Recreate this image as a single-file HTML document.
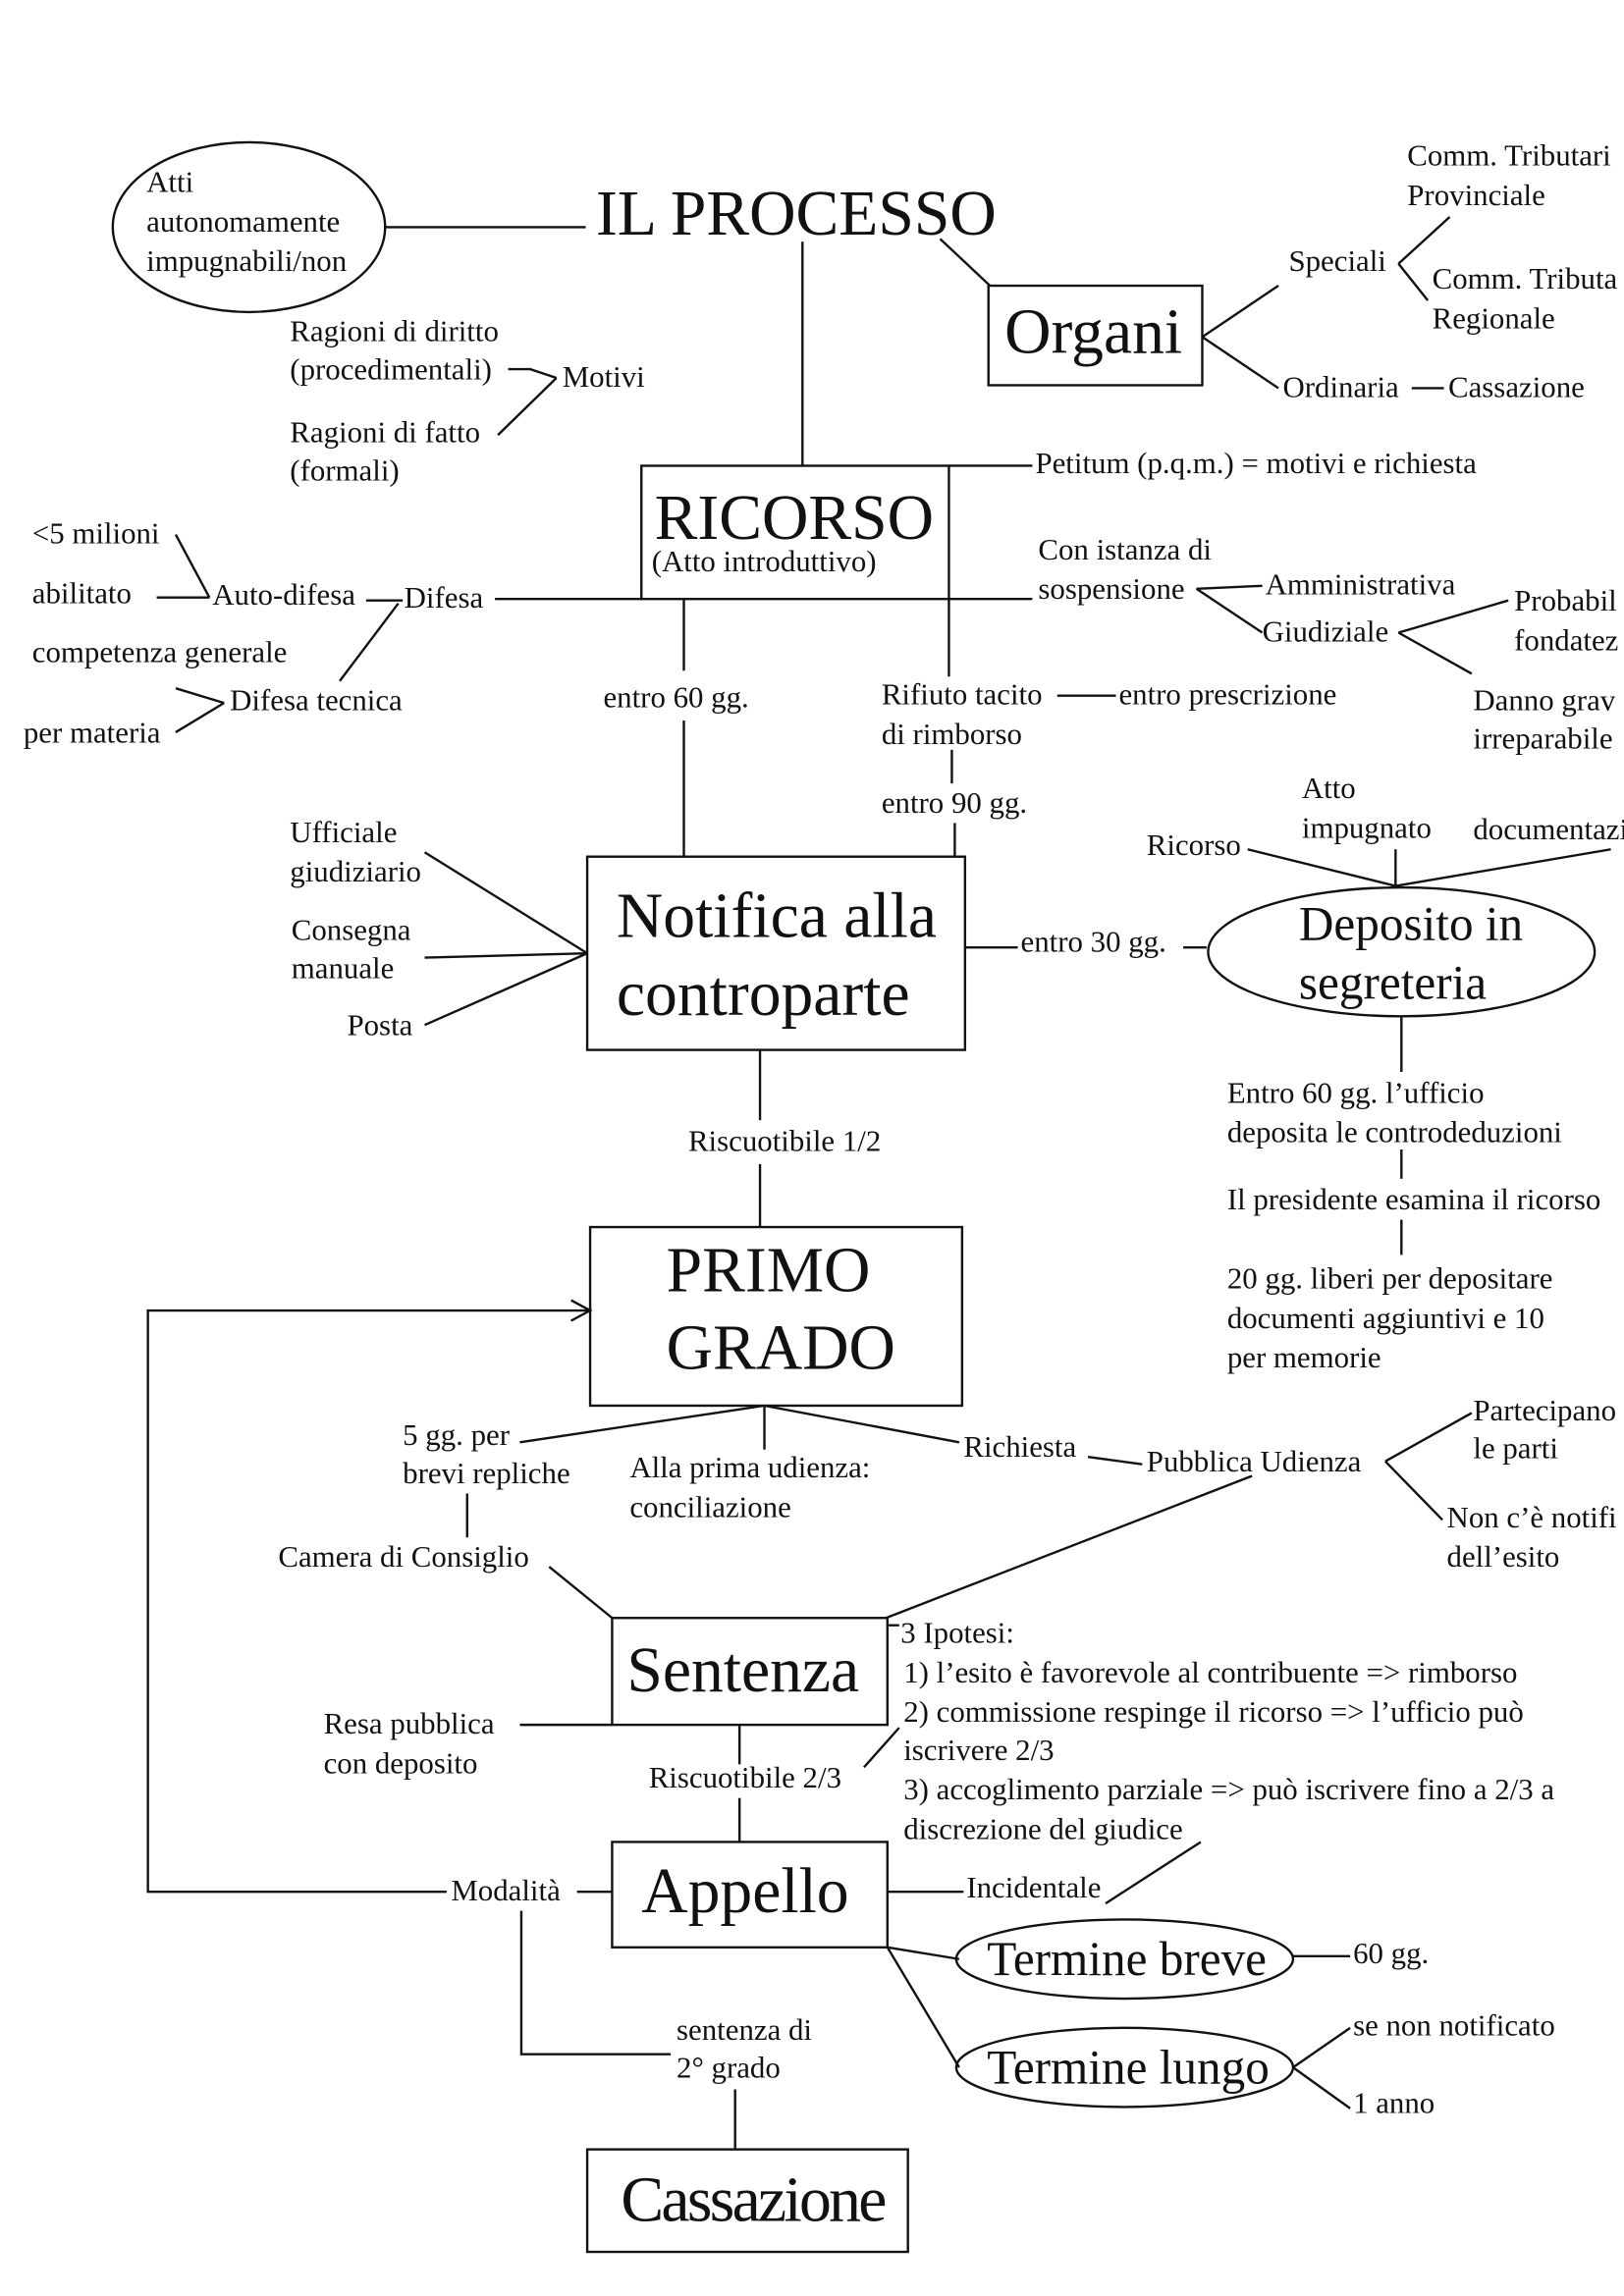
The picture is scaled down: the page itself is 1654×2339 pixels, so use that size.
<!DOCTYPE html>
<html><head><meta charset="utf-8"><style>
html,body{margin:0;padding:0;background:#fff}
svg{display:block}
text{font-family:"Liberation Serif",serif;fill:#111;font-size:20.7px}
.b{font-size:44px}
line,polyline,rect,ellipse,path{stroke:#111;stroke-width:1.6;fill:none}
</style></head><body>
<svg width="1654" height="2339" viewBox="0 0 1109 1568" xmlns="http://www.w3.org/2000/svg">
<ellipse cx="170" cy="155" rx="93" ry="58"/>
<text x="100" y="131">Atti</text><text x="100" y="158">autonomamente</text><text x="100" y="185">impugnabili/non</text>
<line x1="263" y1="155" x2="400" y2="155"/>
<text x="407" y="160" class="b">IL PROCESSO</text>
<line x1="548" y1="165" x2="548" y2="318"/>
<line x1="642" y1="163" x2="676" y2="195"/>
<rect x="675" y="195" width="146" height="68"/>
<text x="686" y="241" class="b">Organi</text>
<line x1="821" y1="230" x2="873" y2="195"/><line x1="821" y1="230" x2="873" y2="265"/>
<text x="880" y="185">Speciali</text>
<line x1="955" y1="180" x2="990" y2="148"/><line x1="955" y1="180" x2="975" y2="205"/>
<text x="961" y="113">Comm. Tributari</text><text x="961" y="140">Provinciale</text>
<text x="978" y="197">Comm. Tributa</text><text x="978" y="224">Regionale</text>
<text x="876" y="271">Ordinaria</text><line x1="964" y1="265" x2="986" y2="265"/><text x="989" y="271">Cassazione</text>
<text x="198" y="233">Ragioni di diritto</text><text x="198" y="259">(procedimentali)</text>
<text x="198" y="302">Ragioni di fatto</text><text x="198" y="328">(formali)</text>
<text x="384" y="264">Motivi</text>
<polyline points="347,252 362,252 380,258"/><line x1="340" y1="297" x2="380" y2="258"/>
<rect x="438" y="318" width="210" height="91"/>
<text x="447" y="368" class="b">RICORSO</text>
<text x="445" y="390">(Atto introduttivo)</text>
<line x1="648" y1="318" x2="705" y2="318"/>
<text x="707" y="323">Petitum (p.q.m.) = motivi e richiesta</text>
<line x1="338" y1="409" x2="438" y2="409"/><line x1="648" y1="409" x2="705" y2="409"/>
<text x="709" y="382">Con istanza di</text><text x="709" y="409">sospensione</text>
<line x1="817" y1="402" x2="862" y2="400"/><line x1="817" y1="402" x2="862" y2="432"/>
<text x="864" y="406">Amministrativa</text><text x="862" y="438">Giudiziale</text>
<line x1="955" y1="432" x2="1030" y2="410"/><line x1="955" y1="432" x2="1005" y2="460"/>
<text x="1034" y="417">Probabil</text><text x="1034" y="444">fondatez</text>
<text x="1006" y="485">Danno grav</text><text x="1006" y="511">irreparabile</text>
<text x="22" y="371">&lt;5 milioni</text><text x="22" y="412">abilitato</text>
<line x1="107" y1="408" x2="143" y2="408"/><line x1="120" y1="365" x2="143" y2="408"/>
<text x="145" y="413">Auto-difesa</text>
<line x1="250" y1="410" x2="275" y2="410"/>
<text x="276" y="415">Difesa</text>
<text x="22" y="452">competenza generale</text><text x="157" y="485">Difesa tecnica</text><text x="16" y="507">per materia</text>
<line x1="120" y1="470" x2="153" y2="480"/><line x1="120" y1="500" x2="153" y2="480"/>
<line x1="232" y1="465" x2="272" y2="412"/>
<line x1="467" y1="409" x2="467" y2="458"/><text x="412" y="483">entro 60 gg.</text><line x1="467" y1="492" x2="467" y2="585"/>
<line x1="648" y1="409" x2="648" y2="462"/>
<text x="602" y="481">Rifiuto tacito</text><text x="602" y="508">di rimborso</text>
<line x1="722" y1="475" x2="762" y2="475"/><text x="764" y="481">entro prescrizione</text>
<line x1="650" y1="512" x2="650" y2="535"/><text x="602" y="555">entro 90 gg.</text><line x1="652" y1="562" x2="652" y2="585"/>
<rect x="401" y="585" width="258" height="132"/>
<text x="421" y="640" class="b">Notifica alla</text><text x="421" y="693" class="b">controparte</text>
<line x1="290" y1="582" x2="401" y2="651"/><line x1="290" y1="654" x2="401" y2="651"/><line x1="290" y1="700" x2="401" y2="651"/>
<text x="198" y="575">Ufficiale</text><text x="198" y="602">giudiziario</text>
<text x="199" y="642">Consegna</text><text x="199" y="668">manuale</text><text x="237" y="707">Posta</text>
<line x1="659" y1="647" x2="695" y2="647"/><text x="697" y="650">entro 30 gg.</text><line x1="808" y1="647" x2="824" y2="647"/>
<ellipse cx="957" cy="650" rx="132" ry="44"/>
<text x="887" y="642" style="font-size:33px">Deposito in</text><text x="887" y="682" style="font-size:33px">segreteria</text>
<text x="783" y="584">Ricorso</text><text x="889" y="545">Atto</text><text x="889" y="572">impugnato</text><text x="1006" y="573">documentazi</text>
<line x1="953" y1="605" x2="852" y2="580"/><line x1="953" y1="605" x2="953" y2="580"/><line x1="953" y1="605" x2="1100" y2="580"/>
<line x1="957" y1="694" x2="957" y2="732"/>
<text x="838" y="753">Entro 60 gg. l’ufficio</text><text x="838" y="780">deposita le controdeduzioni</text>
<line x1="957" y1="785" x2="957" y2="805"/>
<text x="838" y="826">Il presidente esamina il ricorso</text>
<line x1="957" y1="833" x2="957" y2="857"/>
<text x="838" y="880">20 gg. liberi per depositare</text><text x="838" y="907">documenti aggiuntivi e 10</text><text x="838" y="934">per memorie</text>
<line x1="519" y1="717" x2="519" y2="765"/><text x="470" y="786">Riscuotibile 1/2</text><line x1="519" y1="795" x2="519" y2="838"/>
<rect x="403" y="838" width="254" height="122"/>
<text x="455" y="882" class="b">PRIMO</text><text x="455" y="935" class="b">GRADO</text>
<polyline points="305,1292 101,1292 101,895 403,895"/>
<polyline points="390,888 403,895 390,902"/>
<line x1="522" y1="960" x2="355" y2="985"/><line x1="522" y1="960" x2="522" y2="990"/><line x1="522" y1="960" x2="655" y2="985"/>
<text x="275" y="987">5 gg. per</text><text x="275" y="1013">brevi repliche</text>
<line x1="319" y1="1020" x2="319" y2="1050"/>
<text x="190" y="1070">Camera di Consiglio</text>
<line x1="375" y1="1070" x2="418" y2="1105"/>
<text x="430" y="1009">Alla prima udienza:</text><text x="430" y="1036">conciliazione</text>
<text x="658" y="995">Richiesta</text><line x1="743" y1="995" x2="780" y2="1000"/>
<text x="783" y="1005">Pubblica Udienza</text>
<line x1="946" y1="998" x2="1005" y2="965"/><line x1="946" y1="998" x2="985" y2="1038"/>
<text x="1006" y="970">Partecipano</text><text x="1006" y="996">le parti</text>
<text x="988" y="1043">Non c’è notifi</text><text x="988" y="1070">dell’esito</text>
<line x1="855" y1="1008" x2="605" y2="1105"/>
<rect x="418" y="1105" width="188" height="73"/>
<text x="428" y="1155" class="b">Sentenza</text>
<line x1="606" y1="1110" x2="614" y2="1110"/>
<text x="615" y="1122">3 Ipotesi:</text>
<text x="617" y="1149">1) l’esito è favorevole al contribuente =&gt; rimborso</text>
<text x="617" y="1176">2) commissione respinge il ricorso =&gt; l’ufficio può</text>
<text x="617" y="1202">iscrivere 2/3</text>
<text x="617" y="1229">3) accoglimento parziale =&gt; può iscrivere fino a 2/3 a</text>
<text x="617" y="1256">discrezione del giudice</text>
<text x="221" y="1184">Resa pubblica</text><text x="221" y="1211">con deposito</text>
<line x1="355" y1="1178" x2="418" y2="1178"/>
<line x1="505" y1="1178" x2="505" y2="1205"/><text x="443" y="1221">Riscuotibile 2/3</text>
<line x1="590" y1="1207" x2="614" y2="1180"/>
<line x1="505" y1="1228" x2="505" y2="1258"/>
<rect x="418" y="1258" width="188" height="72"/>
<text x="438" y="1306" class="b">Appello</text>
<text x="308" y="1298">Modalità</text><line x1="394" y1="1292" x2="418" y2="1292"/>
<line x1="606" y1="1292" x2="658" y2="1292"/><text x="660" y="1296">Incidentale</text>
<line x1="755" y1="1300" x2="820" y2="1258"/>
<ellipse cx="768" cy="1338" rx="115" ry="27"/><text x="674" y="1349" style="font-size:33px">Termine breve</text>
<line x1="606" y1="1330" x2="655" y2="1338"/>
<line x1="883" y1="1336" x2="922" y2="1336"/><text x="924" y="1341">60 gg.</text>
<ellipse cx="768" cy="1412" rx="115" ry="27"/><text x="674" y="1423" style="font-size:33px">Termine lungo</text>
<line x1="606" y1="1330" x2="655" y2="1412"/>
<line x1="883" y1="1412" x2="922" y2="1385"/><line x1="883" y1="1412" x2="922" y2="1440"/>
<text x="924" y="1390">se non notificato</text><text x="924" y="1443">1 anno</text>
<polyline points="356,1305 356,1403 458,1403"/>
<text x="462" y="1393">sentenza di</text><text x="462" y="1419">2° grado</text>
<line x1="502" y1="1427" x2="502" y2="1468"/>
<rect x="401" y="1468" width="219" height="70"/>
<text x="424" y="1517" class="b" style="letter-spacing:-1.8px">Cassazione</text>
</svg>
</body></html>
